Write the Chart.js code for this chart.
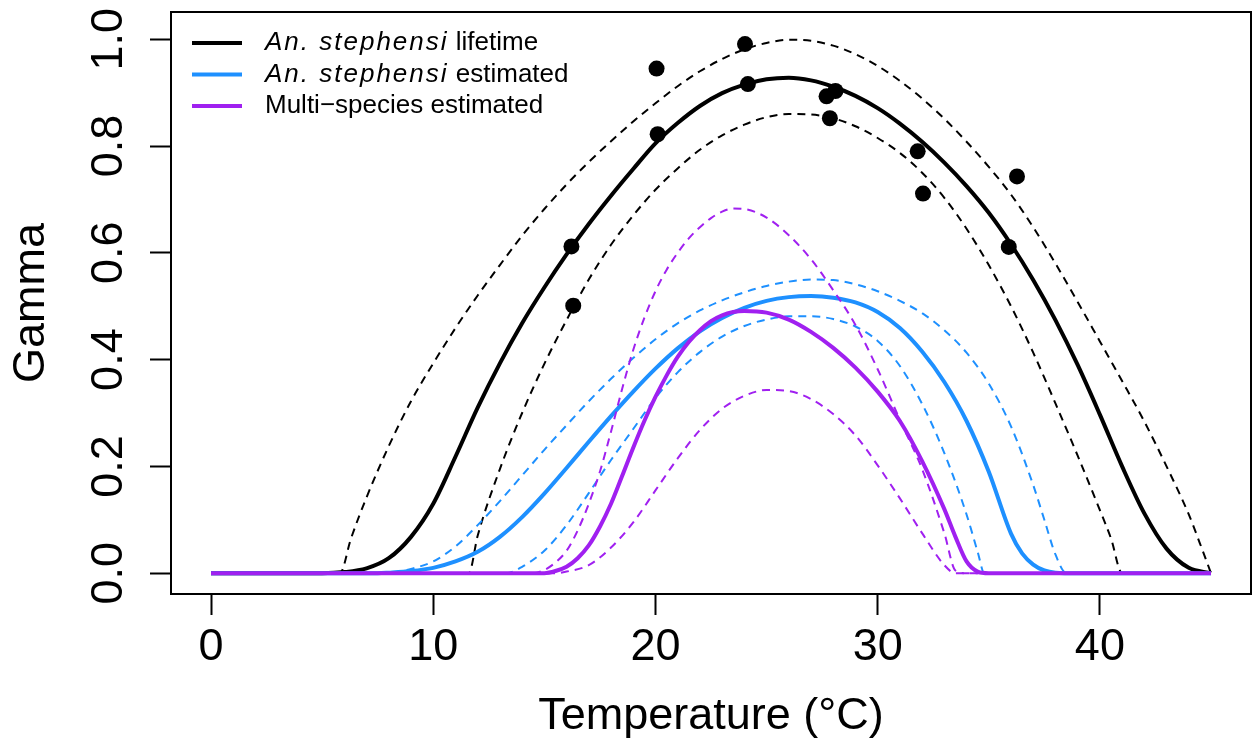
<!DOCTYPE html>
<html lang="en">
<head>
<meta charset="UTF-8">
<title>Gamma vs Temperature</title>
<style>
  body { margin: 0; background: #fff; }
  .wrap { width: 1259px; height: 742px; }
</style>
<script src="https://cdn.jsdelivr.net/npm/chart.js"></script>
</head>
<body>
<div class="wrap"><canvas id="chart"></canvas></div>
<script>
// An. stephensi lifetime fit and its bounds
const lifeT  = [0, 5, 6, 7, 8, 9, 10, 11, 12, 13, 14, 15, 16, 17, 18, 19, 20, 21, 22, 23, 24, 25, 26, 27, 28, 29, 30, 31, 32, 33, 34, 35, 36, 37, 38, 39, 40, 41, 42, 43, 44, 45];
const lifeG  = [0, 0, 0.002, 0.009, 0.028, 0.068, 0.13, 0.218, 0.31, 0.393, 0.468, 0.535, 0.597, 0.654, 0.707, 0.757, 0.805, 0.843, 0.875, 0.899, 0.915, 0.925, 0.928, 0.923, 0.911, 0.894, 0.871, 0.842, 0.808, 0.769, 0.725, 0.675, 0.616, 0.549, 0.474, 0.39, 0.297, 0.2, 0.112, 0.046, 0.01, 0];
const lifeUpT = [0, 5.8, 6.3, 7, 8, 9, 10, 11, 12, 13, 14, 15, 16, 17, 18, 19, 20, 21, 22, 23, 24, 25, 26, 27, 28, 29, 30, 31, 32, 33, 34, 35, 36, 37, 38, 39, 40, 41, 42, 43, 44, 44.5, 45];
const lifeUpG = [0, 0, 0.065, 0.142, 0.238, 0.322, 0.393, 0.459, 0.52, 0.577, 0.632, 0.682, 0.728, 0.77, 0.809, 0.846, 0.88, 0.912, 0.94, 0.963, 0.981, 0.993, 0.999, 0.997, 0.988, 0.972, 0.95, 0.922, 0.889, 0.851, 0.808, 0.761, 0.709, 0.648, 0.58, 0.508, 0.434, 0.36, 0.284, 0.2, 0.11, 0.056, 0];
const lifeLoT = [0, 11.6, 12, 13, 14, 15, 16, 17, 18, 19, 20, 21, 22, 23, 24, 25, 26, 27, 28, 29, 30, 31, 32, 33, 34, 35, 36, 37, 38, 39, 40, 40.5, 41, 45];
const lifeLoG = [0, 0, 0.07, 0.195, 0.3, 0.392, 0.474, 0.55, 0.615, 0.67, 0.718, 0.758, 0.793, 0.82, 0.84, 0.854, 0.86, 0.859, 0.852, 0.837, 0.815, 0.787, 0.75, 0.703, 0.645, 0.577, 0.5, 0.413, 0.318, 0.22, 0.118, 0.065, 0, 0];

// An. stephensi estimated
const stephT  = [0, 7.5, 8, 9, 10, 11, 12, 13, 14, 15, 16, 17, 18, 19, 20, 21, 22, 23, 24, 25, 26, 27, 28, 29, 30, 31, 32, 33, 34, 35, 36, 36.5, 37, 37.5, 38, 39, 45];
const stephG  = [0, 0, 0.001, 0.004, 0.01, 0.022, 0.04, 0.068, 0.105, 0.149, 0.197, 0.246, 0.294, 0.34, 0.383, 0.421, 0.453, 0.478, 0.497, 0.51, 0.517, 0.519, 0.516, 0.507, 0.489, 0.459, 0.415, 0.358, 0.285, 0.19, 0.074, 0.037, 0.016, 0.005, 0.001, 0, 0];
const stephUpT = [0, 8, 9, 10, 11, 12, 13, 14, 15, 16, 17, 18, 19, 20, 21, 22, 23, 24, 25, 26, 27, 28, 29, 30, 31, 32, 33, 34, 35, 36, 37, 37.5, 38, 38.5, 45];
const stephUpG = [0, 0, 0.008, 0.022, 0.05, 0.09, 0.135, 0.183, 0.231, 0.277, 0.322, 0.364, 0.403, 0.438, 0.468, 0.492, 0.511, 0.526, 0.538, 0.546, 0.55, 0.549, 0.541, 0.528, 0.51, 0.487, 0.455, 0.413, 0.355, 0.275, 0.165, 0.1, 0.035, 0, 0];
const stephLoT = [0, 13.3, 14, 15, 16, 17, 18, 19, 20, 21, 22, 23, 24, 25, 26, 27, 28, 29, 30, 31, 32, 33, 34, 34.5, 34.8, 45];
const stephLoG = [0, 0, 0.012, 0.042, 0.09, 0.15, 0.212, 0.27, 0.328, 0.376, 0.414, 0.443, 0.463, 0.475, 0.481, 0.481, 0.476, 0.462, 0.435, 0.388, 0.317, 0.225, 0.11, 0.04, 0, 0];

// Multi-species estimated
const multiT  = [0, 15, 15.5, 16, 16.5, 17, 17.5, 18, 18.5, 19, 19.5, 20, 20.5, 21, 21.5, 22, 22.5, 23, 23.5, 24, 25, 26, 27, 28, 29, 30, 31, 32, 33, 33.5, 34, 34.5, 35, 45];
const multiG  = [0, 0, 0.004, 0.012, 0.028, 0.052, 0.087, 0.13, 0.182, 0.235, 0.285, 0.33, 0.37, 0.405, 0.433, 0.455, 0.472, 0.483, 0.489, 0.491, 0.488, 0.475, 0.452, 0.422, 0.385, 0.34, 0.285, 0.21, 0.12, 0.068, 0.022, 0.003, 0, 0];
const multiUpT = [0, 14.5, 15, 15.5, 16, 16.5, 17, 17.5, 18, 18.5, 19, 19.5, 20, 20.5, 21, 21.5, 22, 22.5, 23, 23.5, 24, 25, 26, 27, 28, 29, 30, 31, 32, 33, 33.5, 34, 45];
const multiUpG = [0, 0, 0.006, 0.02, 0.042, 0.08, 0.13, 0.19, 0.265, 0.345, 0.418, 0.478, 0.528, 0.568, 0.6, 0.627, 0.648, 0.665, 0.677, 0.683, 0.682, 0.666, 0.633, 0.588, 0.53, 0.465, 0.382, 0.287, 0.195, 0.075, 0.005, 0, 0];
const multiLoT = [0, 15.5, 16, 17, 18, 19, 20, 21, 22, 23, 24, 25, 26, 27, 28, 29, 30, 31, 32, 33, 33.5, 45];
const multiLoG = [0, 0, 0.003, 0.015, 0.048, 0.095, 0.155, 0.215, 0.268, 0.308, 0.332, 0.343, 0.341, 0.326, 0.298, 0.258, 0.202, 0.14, 0.075, 0.015, 0, 0];

// observed points
const obsT = [16.22, 16.30, 20.05, 20.10, 24.03, 24.16, 27.70, 28.10, 27.85, 31.80, 32.04, 35.90, 36.27];
const obsG = [0.612, 0.501, 0.945, 0.822, 0.991, 0.916, 0.893, 0.903, 0.852, 0.790, 0.711, 0.611, 0.743];

const xTicks = [0, 10, 20, 30, 40];
const yTicks = [0, 0.2, 0.4, 0.6, 0.8, 1.0];
const yTickLabels = ['0.0', '0.2', '0.4', '0.6', '0.8', '1.0'];

const legendItalic = ['An. stephensi', 'An. stephensi', ''];
const legendPlain  = ['lifetime', 'estimated', 'Multi\u2212species estimated'];
const legendColors = ['#000000', '#1E90FF', '#A020F0'];

const FONT = '"Liberation Sans", Arial, Helvetica, sans-serif';

function pts(xs, ys) {
  return xs.map((x, i) => ({ x: x, y: ys[i] }));
}

function curve(xs, ys, color, dashed) {
  return {
    data: pts(xs, ys),
    showLine: true,
    borderColor: color,
    borderWidth: dashed ? 2 : 4,
    borderDash: dashed ? [8, 6] : [],
    pointRadius: 0,
    cubicInterpolationMode: 'monotone',
    fill: false
  };
}

// box, rotated y labels and legend
const extras = {
  id: 'extras',
  afterDraw(chart) {
    const ctx = chart.ctx;
    const a = chart.chartArea;
    const y = chart.scales.y;
    ctx.save();
    ctx.strokeStyle = '#000';
    ctx.lineWidth = 2;
    ctx.strokeRect(a.left, a.top, a.right - a.left, a.bottom - a.top);

    ctx.fillStyle = '#000';
    ctx.font = '45px ' + FONT;
    ctx.textAlign = 'center';
    ctx.textBaseline = 'alphabetic';
    yTicks.forEach((v, i) => {
      ctx.save();
      ctx.translate(a.left - 49, y.getPixelForValue(v));
      ctx.rotate(-Math.PI / 2);
      ctx.fillText(yTickLabels[i], 0, 0);
      ctx.restore();
    });

    // legend
    ctx.textAlign = 'left';
    legendPlain.forEach((txt, i) => {
      const ly = a.top + 31 + i * 31.5;
      ctx.strokeStyle = legendColors[i];
      ctx.lineWidth = 4;
      ctx.beginPath();
      ctx.moveTo(a.left + 21, ly);
      ctx.lineTo(a.left + 71, ly);
      ctx.stroke();
      let tx = a.left + 94;
      if (legendItalic[i]) {
        ctx.font = 'italic 26px ' + FONT;
        ctx.letterSpacing = '2px';
        ctx.fillText(legendItalic[i], tx, ly + 7);
        tx += ctx.measureText(legendItalic[i]).width;
        ctx.letterSpacing = '0px';
        ctx.font = '26px ' + FONT;
        tx += ctx.measureText(' ').width;
      }
      ctx.font = '26px ' + FONT;
      ctx.fillText(txt, tx, ly + 7);
    });
    ctx.restore();
  }
};

const datasets = [
  {
    data: pts(obsT, obsG),
    showLine: false,
    pointRadius: 8,
    pointBackgroundColor: '#000',
    pointBorderWidth: 0
  },
  curve(multiT, multiG, legendColors[2], false),
  curve(multiUpT, multiUpG, legendColors[2], true),
  curve(multiLoT, multiLoG, legendColors[2], true),
  curve(stephT, stephG, legendColors[1], false),
  curve(stephUpT, stephUpG, legendColors[1], true),
  curve(stephLoT, stephLoG, legendColors[1], true),
  curve(lifeT, lifeG, legendColors[0], false),
  curve(lifeUpT, lifeUpG, legendColors[0], true),
  curve(lifeLoT, lifeLoG, legendColors[0], true)
];

Chart.defaults.font.family = FONT;
Chart.defaults.color = '#000';

new Chart(document.getElementById('chart'), {
  type: 'scatter',
  data: { datasets: datasets },
  options: {
    responsive: true,
    maintainAspectRatio: false,
    animation: false,
    events: [],
    layout: { padding: { left: 0, right: 3, top: 12, bottom: 0 } },
    plugins: { legend: { display: false }, tooltip: { enabled: false } },
    scales: {
      x: {
        type: 'linear',
        min: -1.8,
        max: 46.8,
        afterBuildTicks: s => { s.ticks = xTicks.map(v => ({ value: v })); },
        afterFit: s => { s.height = 148; },
        border: { display: false },
        grid: { drawOnChartArea: false, drawTicks: true, tickLength: 21, tickWidth: 2, tickColor: '#000' },
        ticks: { font: { size: 45, lineHeight: 1 }, padding: 10, maxRotation: 0, color: '#000' },
        title: { display: true, text: 'Temperature (\u00B0C)', font: { size: 45, lineHeight: 1 }, padding: { top: 0, bottom: 3 }, color: '#000' }
      },
      y: {
        type: 'linear',
        min: -0.039,
        max: 1.051,
        afterBuildTicks: s => { s.ticks = yTicks.map(v => ({ value: v })); },
        afterFit: s => { s.width = 171; },
        border: { display: false },
        grid: { drawOnChartArea: false, drawTicks: true, tickLength: 21, tickWidth: 2, tickColor: '#000' },
        ticks: { display: false },
        title: { display: true, text: 'Gamma', font: { size: 45, lineHeight: 1 }, padding: { top: 9, bottom: 0 }, color: '#000' }
      }
    }
  },
  plugins: [extras]
});
</script>
</body>
</html>
